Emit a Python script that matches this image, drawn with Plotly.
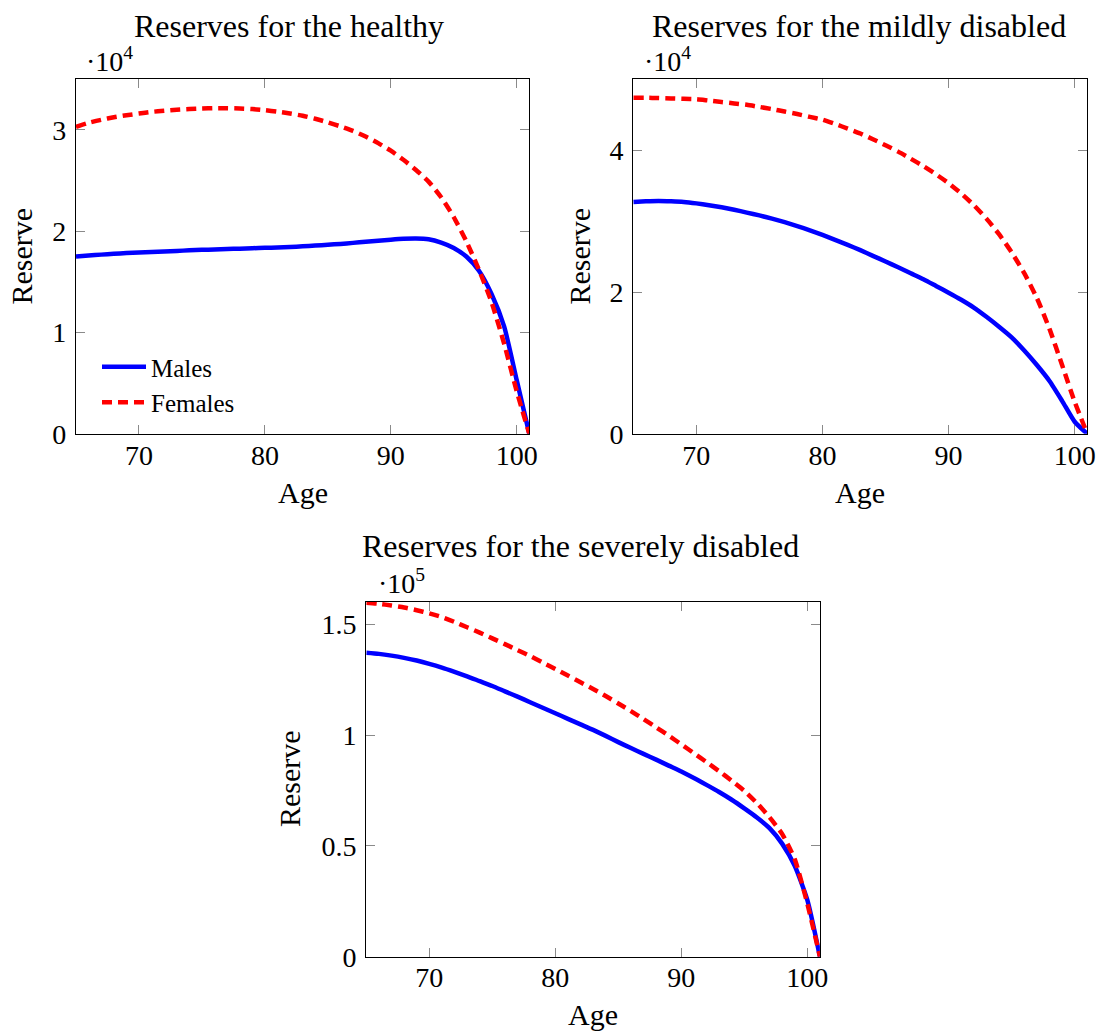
import plotly.graph_objects as go

# ---------------- data ----------------
ages = list(range(65, 102))

healthy_males = [17500, 17600, 17690, 17770, 17840, 17900, 17960, 18010, 18060, 18110,
                 18160, 18200, 18240, 18280, 18320, 18360, 18400, 18450, 18510, 18580,
                 18660, 18750, 18850, 18960, 19070, 19170, 19250, 19280, 19200, 18880,
                 18350, 17500, 16100, 13800, 10600, 5300, 0]
healthy_females = [30300, 30700, 31000, 31250, 31450, 31620, 31780, 31900, 32000, 32070,
                   32120, 32150, 32150, 32120, 32060, 31950, 31800, 31620, 31400, 31100,
                   30750, 30350, 29900, 29350, 28700, 27950, 27050, 26050, 24900, 23350,
                   21400, 19000, 16200, 13000, 8900, 4200, 0]

mild_males = [32700, 32800, 32850, 32800, 32700, 32500, 32250, 31950, 31600, 31200,
              30800, 30350, 29850, 29300, 28700, 28050, 27350, 26650, 25900, 25100,
              24300, 23500, 22650, 21800, 20850, 19900, 18900, 17800, 16500, 15100,
              13600, 11750, 9700, 7450, 4650, 1700, 0]
mild_females = [47400, 47400, 47350, 47300, 47250, 47200, 47000, 46800, 46600, 46400,
                46100, 45800, 45450, 45100, 44700, 44300, 43700, 43050, 42350, 41550,
                40700, 39800, 38800, 37750, 36600, 35350, 33900, 32250, 30350, 28150,
                25600, 22650, 19150, 14800, 9700, 4500, 0]

severe_males = [137100, 136600, 135800, 134800, 133600, 132100, 130400, 128500, 126500, 124300,
                122100, 119700, 117300, 114800, 112300, 109800, 107300, 104800, 102300, 99600,
                96800, 94100, 91500, 88900, 86200, 83500, 80600, 77500, 74300, 70800,
                66900, 62800, 58000, 51000, 41000, 25600, 0]
severe_females = [159700, 159200, 158400, 157500, 156300, 154900, 153200, 151000, 148600, 146200,
                  143600, 141000, 138300, 135600, 132700, 129800, 126800, 123800, 120800, 117600,
                  114200, 110800, 107200, 103500, 99700, 95800, 91800, 87800, 83700, 79400,
                  74800, 69300, 62900, 55400, 44000, 24000, 0]

x_ticks = [70, 80, 90, 100]
y_ticks_healthy = [0, 10000, 20000, 30000]
y_text_healthy = ["0", "1", "2", "3"]
y_ticks_mild = [0, 20000, 40000]
y_text_mild = ["0", "2", "4"]
y_ticks_severe = [0, 50000, 100000, 150000]
y_text_severe = ["0", "0.5", "1", "1.5"]

titles = ["Reserves for the healthy", "Reserves for the mildly disabled",
          "Reserves for the severely disabled"]
series_names = ["Males", "Females"]

# ---------------- layout helpers ----------------
W, H = 1097, 1031
FONT = "Liberation Serif"


def fx(p):
    return p / W


def fy(p):
    return 1 - p / H


# panel pixel boxes (left, right, top, bottom)
boxes = [(76, 529.3, 79.3, 433.8), (633.3, 1087.3, 79.3, 433.8), (366.3, 819.9, 602, 956.7)]

fig = go.Figure()

BLUE = "#0000ff"
RED = "#ff0000"

data_sets = [
    (healthy_males, healthy_females),
    (mild_males, mild_females),
    (severe_males, severe_females),
]

for i, (m, f) in enumerate(data_sets):
    suffix = "" if i == 0 else str(i + 1)
    fig.add_trace(go.Scatter(x=ages, y=m, mode="lines", name=series_names[0],
                             line=dict(color=BLUE, width=4.5, shape="spline", smoothing=0.6),
                             xaxis="x" + suffix, yaxis="y" + suffix,
                             showlegend=(i == 0)))
    fig.add_trace(go.Scatter(x=ages, y=f, mode="lines", name=series_names[1],
                             line=dict(color=RED, width=4.5, dash="10px,6px",
                                       shape="spline", smoothing=0.6),
                             xaxis="x" + suffix, yaxis="y" + suffix,
                             showlegend=(i == 0)))

axis_common = dict(showline=True, linecolor="black", linewidth=1.2, mirror="ticks",
                   ticks="inside", ticklen=9, tickwidth=1, tickcolor="#8a8a8a",
                   showgrid=False, zeroline=False, automargin=False,
                   tickfont=dict(family=FONT, size=28, color="black"))

y_specs = [
    ([0, 35000], y_ticks_healthy, y_text_healthy),
    ([0, 50000], y_ticks_mild, y_text_mild),
    ([0, 160000], y_ticks_severe, y_text_severe),
]

layout_axes = {}
for i, (box, ys) in enumerate(zip(boxes, y_specs)):
    l, r, t, b = box
    suffix = "" if i == 0 else str(i + 1)
    layout_axes["xaxis" + suffix] = dict(axis_common, domain=[fx(l), fx(r)], range=[65, 101],
                                         tickvals=x_ticks, anchor="y" + suffix,
                                         ticklabelstandoff=-4)
    layout_axes["yaxis" + suffix] = dict(axis_common, domain=[fy(b), fy(t)], range=ys[0],
                                         tickvals=ys[1], ticktext=ys[2], anchor="x" + suffix,
                                         ticklabelstandoff=3)

annotations = []
title_pos = [(288.6, 26), (859, 26), (580, 546)]
for txt, (cx, cy) in zip(titles, title_pos):
    annotations.append(dict(text=txt, x=fx(cx), y=fy(cy), xref="paper", yref="paper",
                            xanchor="center", yanchor="middle", showarrow=False,
                            font=dict(family=FONT, size=32, color="black")))

exp_pos = [(84, 59, "4"), (641.5, 59, "4"), (376, 581, "5")]
for x0, cy, e in exp_pos:
    annotations.append(dict(text="·10<sup>" + e + "</sup>", x=fx(x0), y=fy(cy),
                            xref="paper", yref="paper", xanchor="left", yanchor="middle",
                            showarrow=False, font=dict(family=FONT, size=28, color="black")))

age_pos = [(303, 493), (860, 493), (593, 1014)]
for cx, cy in age_pos:
    annotations.append(dict(text="Age", x=fx(cx), y=fy(cy), xref="paper", yref="paper",
                            xanchor="center", yanchor="middle", showarrow=False,
                            font=dict(family=FONT, size=30, color="black")))

res_pos = [(21, 256.5), (579, 256.5), (289, 779)]
for cx, cy in res_pos:
    annotations.append(dict(text="Reserve", x=fx(cx), y=fy(cy), xref="paper", yref="paper",
                            xanchor="center", yanchor="middle", showarrow=False, textangle=-90,
                            font=dict(family=FONT, size=30, color="black")))

fig.update_layout(
    width=W, height=H, autosize=False,
    margin=dict(l=0, r=0, t=0, b=0, pad=0),
    paper_bgcolor="white", plot_bgcolor="white",
    font=dict(family=FONT, color="black"),
    annotations=annotations,
    legend=dict(x=fx(97), y=fy(344), xanchor="left", yanchor="top",
                bgcolor="rgba(0,0,0,0)", font=dict(family=FONT, size=25, color="black"),
                itemwidth=44, tracegroupgap=0),
    **layout_axes,
)

fig.write_html("out.html",
               config={"responsive": False, "displayModeBar": False},
               post_script="document.body.style.margin='0';")
